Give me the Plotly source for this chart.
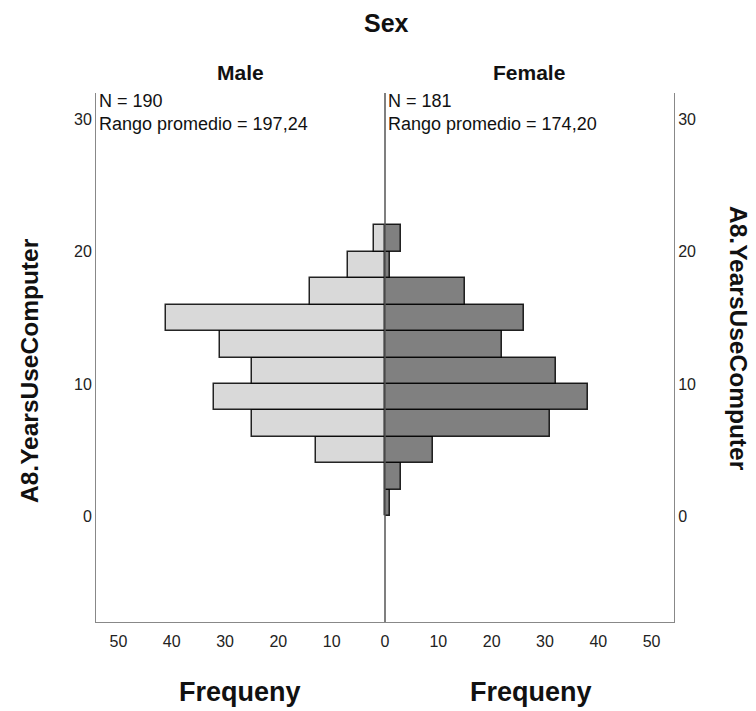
import plotly.graph_objects as go
from plotly.subplots import make_subplots

# Data
bin_centers = [1, 3, 5, 7, 9, 11, 13, 15, 17, 19, 21]   # A8.YearsUseComputer bins of width 2
male_counts = [0, 0, 13, 25, 32, 25, 31, 41, 14, 7, 2]
female_counts = [1, 3, 9, 31, 38, 32, 22, 26, 15, 1, 3]
y_ticks = [0, 10, 20, 30]
x_ticks_left = [0, 10, 20, 30, 40, 50]
x_ticks_right = [10, 20, 30, 40, 50]
male_stats = ["N = 190", "Rango promedio = 197,24"]
female_stats = ["N = 181", "Rango promedio = 174,20"]

FONT = "Liberation Sans, Arial, sans-serif"
W, H = 756, 711
L, R, T, B = 96, 82, 93, 89
PW, PH = W - L - R, H - T - B

def px_x(x):
    return (x - L) / PW

def px_y(y):
    return (H - B - y) / PH

fig = make_subplots(rows=1, cols=2, shared_yaxes=False, horizontal_spacing=0)

fig.add_trace(go.Bar(
    y=bin_centers, x=male_counts, orientation="h", width=2,
    marker=dict(color="#d9d9d9", line=dict(color="rgba(0,0,0,0.85)", width=1.5)),
    showlegend=False, name="Male"), row=1, col=1)
fig.add_trace(go.Bar(
    y=bin_centers, x=female_counts, orientation="h", width=2,
    marker=dict(color="#808080", line=dict(color="rgba(0,0,0,0.85)", width=1.5)),
    showlegend=False, name="Female"), row=1, col=2)

XMAX = 54.2
tickfont = dict(family=FONT, size=16, color="#222")
axis_common = dict(showgrid=False, zeroline=False, ticks="", showline=True,
                   linecolor="#888", linewidth=1, tickfont=tickfont, fixedrange=True)

fig.update_layout(
    width=W, height=H,
    margin=dict(l=L, r=R, t=T, b=B),
    plot_bgcolor="white", paper_bgcolor="white",
    bargap=0,
    xaxis=dict(domain=[0, 0.5], range=[XMAX, 0], tickvals=x_ticks_left,
               ticklabelstandoff=5, **axis_common),
    xaxis2=dict(domain=[0.5, 1], range=[0, XMAX], tickvals=x_ticks_right,
                ticklabelstandoff=5, **axis_common),
    yaxis=dict(range=[-8, 32], tickvals=y_ticks, anchor="x", **axis_common),
    yaxis2=dict(range=[-8, 32], tickvals=y_ticks, anchor="x2", side="right", **axis_common),
)

# center line
fig.add_shape(type="line", xref="paper", yref="paper", x0=0.5, x1=0.5, y0=0, y1=1,
              line=dict(color="#555", width=1.5), layer="above")

def add_text(text, xp, yp, size, angle=0, xanchor="center", bold=False):
    return dict(text=f"<b>{text}</b>" if bold else text,
                x=px_x(xp), y=px_y(yp), xref="paper", yref="paper",
                xanchor=xanchor, yanchor="middle", textangle=angle, align="left",
                showarrow=False, font=dict(family=FONT, size=size, color="#111"))

ann = [
    add_text("Sex", 386, 23, 25, bold=True),
    add_text("Male", 240, 72, 21, bold=True),
    add_text("Female", 529, 72, 21, bold=True),
    add_text("Frequeny", 240, 692, 27, bold=True),
    add_text("Frequeny", 531, 692, 27, bold=True),
    add_text("A8.YearsUseComputer", 29, 371, 24.5, angle=-90, bold=True),
    add_text("A8.YearsUseComputer", 739, 338, 24.5, angle=90, bold=True),
]
for x0, stats in ((97, male_stats), (386, female_stats)):
    ann.append(add_text("<br>".join(stats), x0, 112, 18, xanchor="left"))
fig.update_layout(annotations=ann)

fig.write_html("out.html", config={"displayModeBar": False},
               post_script="document.body.style.margin='0px';")
